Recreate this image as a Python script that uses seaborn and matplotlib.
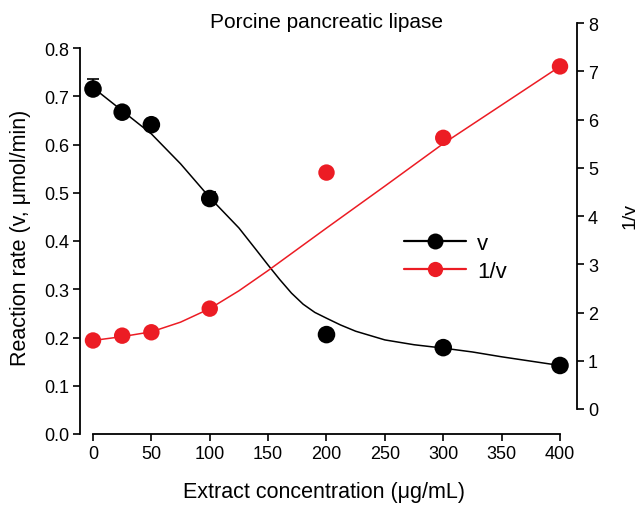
import numpy as np
import pandas as pd
import matplotlib
matplotlib.use("Agg")
import matplotlib.pyplot as plt
import seaborn as sns
from matplotlib.lines import Line2D

# ---- data ----
conc = [0, 25, 50, 100, 200, 300, 400]
rate_v = [0.715, 0.667, 0.641, 0.488, 0.206, 0.179, 0.142]
rate_err_up = [0.021, 0.010, 0.006, 0.014, 0.006, 0.006, 0.006]
inv_v = [1.42, 1.52, 1.59, 2.08, 4.90, 5.62, 7.10]

fit_x = [0, 25, 50, 75, 100, 125, 140, 150, 160, 170, 180, 190, 200, 212, 225, 250,
         275, 300, 325, 350, 375, 400]
fit_v = [0.718, 0.670, 0.622, 0.560, 0.490, 0.427, 0.381, 0.350, 0.320, 0.292, 0.269,
         0.252, 0.240, 0.226, 0.213, 0.195, 0.185, 0.178, 0.170, 0.160, 0.151, 0.142]
fit_inv_x = [0, 25, 50, 75, 100, 125, 150, 200, 250, 300, 350, 400]
fit_inv = [1.42, 1.50, 1.60, 1.80, 2.08, 2.45, 2.87, 3.75, 4.62, 5.50, 6.30, 7.10]

left_ticks = [0.0, 0.1, 0.2, 0.3, 0.4, 0.5, 0.6, 0.7, 0.8]
right_ticks = [0, 1, 2, 3, 4, 5, 6, 7, 8]
x_ticks = [0, 50, 100, 150, 200, 250, 300, 350, 400]

BLACK = "#000000"
RED = "#ec1c24"

sns.set_style("ticks", {"axes.edgecolor": "black", "text.color": "black",
                        "xtick.color": "black", "ytick.color": "black",
                        "axes.labelcolor": "black"})
plt.rcParams["font.family"] = ["Liberation Sans", "DejaVu Sans"]

W, H = 642, 506
fig = plt.figure(figsize=(W / 100, H / 100), dpi=100)
ax = fig.add_axes([80 / W, (H - 435) / H, (577 - 80) / W, (435 - 24) / H])
ax2 = ax.twinx()

pts = pd.DataFrame({"x": conc, "v": rate_v, "inv": inv_v})
fit_a = pd.DataFrame({"x": fit_x, "v": fit_v})
fit_b = pd.DataFrame({"x": fit_inv_x, "inv": fit_inv})

# fitted curves
sns.lineplot(data=fit_a, x="x", y="v", ax=ax, color=BLACK, lw=1.1, zorder=2)
sns.lineplot(data=fit_b, x="x", y="inv", ax=ax2, color=RED, lw=1.1, zorder=2)

# error bars (upper) and points
ax.errorbar(conc, rate_v, yerr=[[0] * len(conc), rate_err_up], fmt="none",
            ecolor=BLACK, elinewidth=1.2, capsize=4, capthick=1.2, zorder=3)
sns.scatterplot(data=pts, x="x", y="v", ax=ax, color=BLACK, s=160, edgecolor="none",
                zorder=4)
sns.scatterplot(data=pts, x="x", y="inv", ax=ax2, color=RED, s=140, edgecolor="none",
                zorder=4)

# limits mapped to the reference layout
ax.set_xlim(-11.13, 414.56)
ax.set_ylim(0, 0.8 + 25 * 0.8 / 386)
ax2.set_ylim(-25 * 8 / 386, 8)

ax.set_xticks(x_ticks)
ax.set_xticklabels([str(t) for t in x_ticks])
ax.set_yticks(left_ticks)
ax.set_yticklabels([f"{t:.1f}" for t in left_ticks])
ax2.set_yticks(right_ticks)
ax2.set_yticklabels([str(t) for t in right_ticks])

for a in (ax, ax2):
    a.set_xlabel("")
    a.set_ylabel("")
    for s in a.spines.values():
        s.set_linewidth(1.3)
        s.set_color("black")
    a.spines["top"].set_visible(False)
    a.tick_params(direction="out", length=5, width=1.2, labelsize=13, pad=3,
                  colors="black")

ax.spines["right"].set_visible(False)
ax.spines["left"].set_bounds(0, 0.8)
ax.spines["bottom"].set_bounds(0, 400)
ax2.spines["left"].set_visible(False)
ax2.spines["bottom"].set_visible(False)
ax2.spines["right"].set_bounds(0, 8)

# texts
fig.text(327 / W, 1 - 23 / H, "Porcine pancreatic lipase", ha="center", va="center",
         fontsize=15, color="black")
fig.text(324 / W, 1 - 493 / H, "Extract concentration (\u03bcg/mL)", ha="center",
         va="center", fontsize=15.5, color="black")
fig.text(21 / W, 1 - 238 / H, "Reaction rate (v, \u03bcmol/min)", ha="center",
         va="center", rotation=90, fontsize=15.5, color="black")
fig.text(630 / W, 1 - 216 / H, "1/v", ha="center", va="center", rotation=90,
         fontsize=14, color="black")

handles = [
    Line2D([], [], color=BLACK, lw=1.6, marker="o", markersize=11.5, markeredgewidth=0),
    Line2D([], [], color=RED, lw=1.6, marker="o", markersize=11, markeredgewidth=0),
]
leg = ax.legend(handles, ["v", "1/v"], loc="upper left",
                bbox_to_anchor=(404 / W, 1 - 234 / H), bbox_transform=fig.transFigure,
                frameon=False, numpoints=1, handlelength=2.8, handletextpad=0.5,
                borderpad=0, borderaxespad=0, labelspacing=0.3, fontsize=16)
for t in leg.get_texts():
    t.set_color("black")

fig.savefig("out.png", dpi=100)
